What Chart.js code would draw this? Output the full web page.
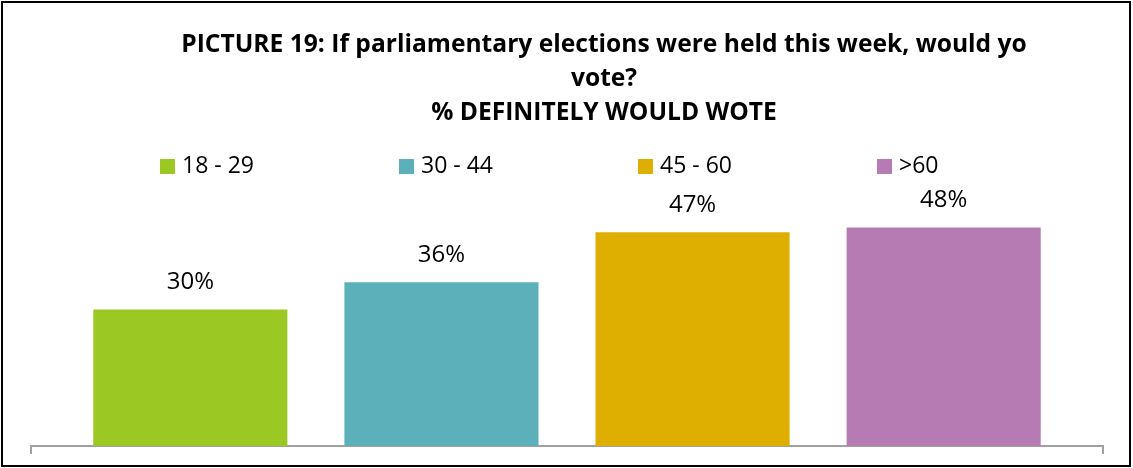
<!DOCTYPE html>
<html>
<head>
<meta charset="utf-8">
<script src="https://cdn.jsdelivr.net/npm/chart.js@4"></script>
<style>
  html, body { margin: 0; padding: 0; background: #fff; }
  #wrap { width: 1133px; height: 468px; position: relative; }
</style>
</head>
<body>
<div id="wrap"><canvas id="grafico" width="1133" height="468"></canvas></div>
<script>
// Dados do gráfico
const tituloLinhas = [
  "PICTURE 19: If parliamentary elections were held this week, would yo",
  "vote?",
  "% DEFINITELY WOULD WOTE",
]
const categorias = [""]
const faixasEtarias = ["18 - 29", "30 - 44", "45 - 60", ">60"]
const valores = [30, 36, 47, 48]
const paletaCores = ["#9bc823", "#5bb0b9", "#deae00", "#b77bb4"]

const fonte = "'Open Sans', 'Liberation Sans', sans-serif"

// Título em três linhas, centralizado como no original
const pluginTitulo = {
  id: "tituloCustom",
  afterDraw(chart) {
    const ctx = chart.ctx
    ctx.save()
    ctx.fillStyle = "#000"
    // ajusta o tamanho para a primeira linha ocupar ~847px
    ctx.font = "bold 22px " + fonte
    const w = ctx.measureText(tituloLinhas[0]).width
    const tam = Math.min(25, (22 * 847) / w)
    ctx.font = "bold " + tam.toFixed(1) + "px " + fonte
    ctx.textAlign = "center"
    ctx.textBaseline = "middle"
    tituloLinhas.forEach((linha, i) => {
      ctx.fillText(linha, 604, 45 + i * 34)
    })
    ctx.restore()
  },
}

// Legenda com espaçamento fixo entre itens
const pluginLegenda = {
  id: "legendaCustom",
  afterDraw(chart) {
    const ctx = chart.ctx
    ctx.save()
    ctx.font = "23px " + fonte
    ctx.textBaseline = "middle"
    ctx.textAlign = "left"
    chart.data.datasets.forEach((ds, i) => {
      const x = 160 + i * 239
      ctx.fillStyle = ds.backgroundColor
      ctx.fillRect(x, 159, 15, 15)
      ctx.fillStyle = "#000"
      ctx.fillText(ds.label, x + 22, 166)
    })
    ctx.restore()
  },
}

// Rótulos de percentual acima das barras + moldura
const pluginRotulos = {
  id: "rotulos",
  afterDatasetsDraw(chart) {
    const ctx = chart.ctx
    ctx.save()
    ctx.font = "24px " + fonte
    ctx.fillStyle = "#000"
    ctx.textAlign = "center"
    ctx.textBaseline = "middle"
    chart.data.datasets.forEach((ds, i) => {
      chart.getDatasetMeta(i).data.forEach((bar, j) => {
        ctx.fillText(ds.data[j] + "%", bar.x, bar.y - 27)
      })
    })
    ctx.strokeStyle = "#000"
    ctx.lineWidth = 2
    ctx.strokeRect(2, 2, 1128, 464)
    ctx.restore()
  },
}

new Chart(document.getElementById("grafico").getContext("2d"), {
  type: "bar",
  data: {
    labels: categorias,
    datasets: faixasEtarias.map((faixa, i) => ({
      label: faixa,
      data: [valores[i]],
      backgroundColor: paletaCores[i],
      categoryPercentage: 0.937,
      barPercentage: 0.773,
    })),
  },
  options: {
    responsive: false,
    animation: false,
    layout: { padding: { left: 31, right: 30, top: 173, bottom: 14 } },
    plugins: {
      legend: { display: false },
      title: { display: false },
      tooltip: { enabled: false },
    },
    scales: {
      x: {
        grid: {
          display: true,
          drawOnChartArea: false,
          drawTicks: true,
          tickLength: 8,
          color: "#a0a0a0",
          lineWidth: 2,
        },
        border: { display: true, color: "#a0a0a0", width: 2 },
        ticks: { display: false },
      },
      y: { display: false, min: 0, max: 60 },
    },
  },
  plugins: [pluginTitulo, pluginLegenda, pluginRotulos],
})
</script>
</body>
</html>
